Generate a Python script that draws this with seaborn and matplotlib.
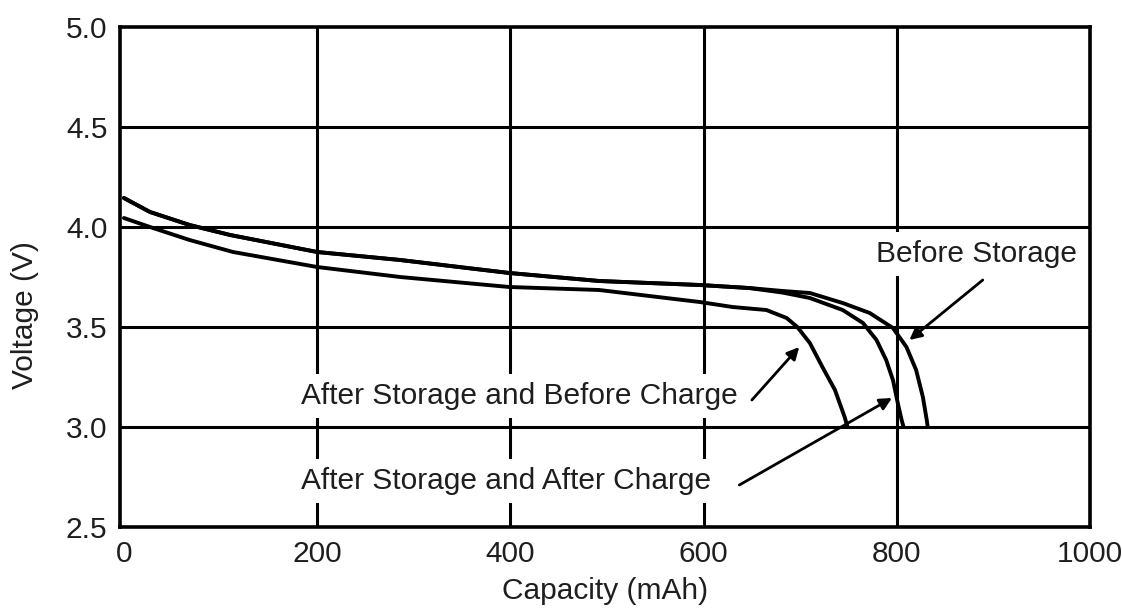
import numpy as np
import pandas as pd
import matplotlib
matplotlib.use('Agg')
import matplotlib.pyplot as plt
import seaborn as sns

# discharge curves (capacity mAh, voltage V)
before_storage_cap = [0, 27, 68, 110, 200, 286, 399, 492, 596, 647, 682, 710, 744, 772, 796, 810, 820, 827, 831, 832]
before_storage_v = [4.145, 4.075, 4.01, 3.96, 3.875, 3.835, 3.77, 3.73, 3.71, 3.695, 3.68, 3.67, 3.62, 3.57, 3.495, 3.40, 3.285, 3.15, 3.035, 3.0]

after_charge_cap = [0, 27, 68, 110, 200, 286, 399, 492, 596, 647, 682, 710, 744, 765, 779, 789, 796, 801, 805, 807]
after_charge_v = [4.145, 4.075, 4.01, 3.96, 3.875, 3.835, 3.77, 3.73, 3.71, 3.695, 3.672, 3.645, 3.585, 3.52, 3.435, 3.335, 3.235, 3.12, 3.035, 3.0]

before_charge_cap = [0, 27, 68, 113, 200, 286, 399, 492, 596, 630, 665, 686, 697, 710, 723, 736, 746, 749]
before_charge_v = [4.045, 4.0, 3.935, 3.875, 3.80, 3.75, 3.70, 3.685, 3.625, 3.60, 3.585, 3.545, 3.50, 3.42, 3.30, 3.185, 3.05, 3.0]

x_ticks = [0, 200, 400, 600, 800, 1000]
y_ticks = [2.5, 3.0, 3.5, 4.0, 4.5, 5.0]

labels = ['Before Storage', 'After Storage and After Charge', 'After Storage and Before Charge']

frames = []
for name, cap, v in zip(labels,
                        [before_storage_cap, after_charge_cap, before_charge_cap],
                        [before_storage_v, after_charge_v, before_charge_v]):
    frames.append(pd.DataFrame({'cap': cap, 'volt': v, 'curve': name}))
df = pd.concat(frames, ignore_index=True)

sns.set_theme(style='white')
plt.rcParams['font.family'] = ['Liberation Sans', 'DejaVu Sans']
ink = '#1e1e1e'

fig = plt.figure(figsize=(11.22, 6.08), dpi=100)
ax = fig.add_axes([0.107, 0.1332, 0.8645, 0.8224])

sns.lineplot(data=df, x='cap', y='volt', hue='curve', palette=['black'] * 3,
             linewidth=2.8, legend=False, ax=ax, sort=False, estimator=None)

ax.set_xlim(-4, 1000)
ax.set_ylim(2.5, 5.0)
ax.set_xticks(x_ticks)
ax.set_xticklabels([str(t) for t in x_ticks])
ax.set_yticks(y_ticks)
ax.set_yticklabels([f'{t:.1f}' for t in y_ticks])
ax.tick_params(length=0, labelsize=21.5, colors=ink, pad=9)

for t in x_ticks[1:-1]:
    ax.axvline(t, color='black', lw=2.2, zorder=1)
for t in y_ticks[1:-1]:
    ax.axhline(t, color='black', lw=2.2, zorder=1)

for s in ax.spines.values():
    s.set_color('black')
    s.set_linewidth(2.6)

ax.set_xlabel('Capacity (mAh)', fontsize=21.5, color=ink, labelpad=7)
ax.set_ylabel('Voltage (V)', fontsize=21.5, color=ink)
ax.yaxis.set_label_coords(-0.084, 0.424)

box = dict(facecolor='white', edgecolor='none', pad=6)
arrow = dict(arrowstyle='-|>', color='black', lw=2.0, mutation_scale=18,
             shrinkA=0, shrinkB=0)

ax.text(883, 3.865, 'Before Storage', fontsize=21.5, color=ink,
        ha='center', va='center', bbox=box, zorder=5)
ax.text(409, 3.155, 'After Storage and Before Charge', fontsize=21.5, color=ink,
        ha='center', va='center', bbox=box, zorder=5)
ax.text(396, 2.73, 'After Storage and After Charge', fontsize=21.5, color=ink,
        ha='center', va='center', bbox=box, zorder=5)

ax.annotate('', xy=(813, 3.435), xytext=(889, 3.735), arrowprops=arrow, zorder=6)
ax.annotate('', xy=(699, 3.40), xytext=(650, 3.135), arrowprops=arrow, zorder=6)
ax.annotate('', xy=(795, 3.145), xytext=(637, 2.71), arrowprops=arrow, zorder=6)

fig.savefig('out.png', dpi=100)
